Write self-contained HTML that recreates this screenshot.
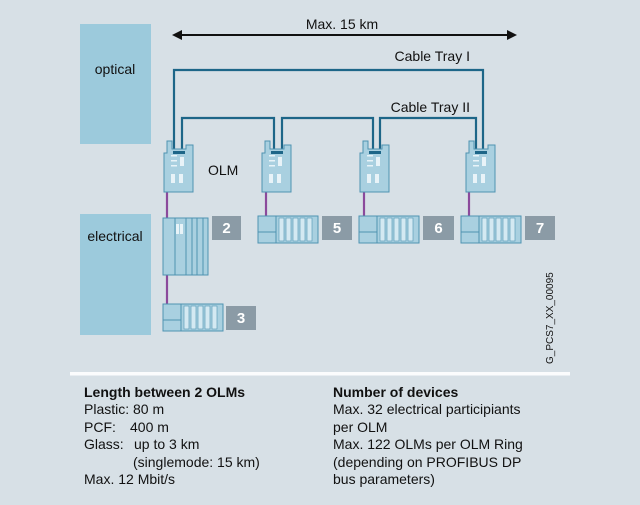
<!DOCTYPE html>
<html><head><meta charset="utf-8"><style>
html,body{margin:0;padding:0;background:#d7e0e6;}
svg{display:block;font-family:"Liberation Sans",Arial,sans-serif;}
</style></head><body>
<svg width="640" height="505" viewBox="0 0 640 505" xmlns="http://www.w3.org/2000/svg">
<defs>
<g id="olm">
  <path d="M0,12 L3,12 L3,0 L8,0 L8,8 L22,8 L22,4 L29,4 L29,51 L0,51 Z" fill="#a9d0e0" stroke="#4f93b1" stroke-width="1"/>
  <rect x="7" y="14" width="6" height="1.5" fill="#e8f3f8"/>
  <rect x="7" y="19" width="6" height="1.5" fill="#e8f3f8"/>
  <rect x="7" y="24" width="6" height="1.5" fill="#e8f3f8"/>
  <rect x="16" y="16" width="4" height="9" fill="#e8f3f8"/>
  <rect x="7" y="33" width="4" height="9" fill="#e8f3f8"/>
  <rect x="15" y="33" width="4" height="9" fill="#e8f3f8"/>
  <rect x="9" y="10" width="12" height="3" fill="#1d6688"/>
</g>
<g id="dev">
  <rect x="0" y="0" width="60" height="27" fill="#a9d0e0" stroke="#4f93b1"/>
  <line x1="0" y1="16" x2="18" y2="16" stroke="#4f93b1"/>
  <line x1="18" y1="0" x2="18" y2="27" stroke="#4f93b1"/>
  <rect x="21" y="2" width="5" height="23" fill="#d4e9f2" stroke="#4f93b1" stroke-width="0.6"/>
  <rect x="28" y="2" width="5" height="23" fill="#d4e9f2" stroke="#4f93b1" stroke-width="0.6"/>
  <rect x="35" y="2" width="5" height="23" fill="#d4e9f2" stroke="#4f93b1" stroke-width="0.6"/>
  <rect x="42" y="2" width="5" height="23" fill="#d4e9f2" stroke="#4f93b1" stroke-width="0.6"/>
  <rect x="49" y="2" width="5" height="23" fill="#d4e9f2" stroke="#4f93b1" stroke-width="0.6"/>
</g>
</defs>
<rect x="80" y="24" width="71" height="120" fill="#9ccadc"/>
<rect x="80" y="214" width="71" height="121" fill="#9ccadc"/>
<text x="115" y="74" font-size="14" text-anchor="middle" fill="#111">optical</text>
<text x="115" y="241" font-size="14" text-anchor="middle" fill="#111">electrical</text>

<line x1="180" y1="35" x2="508" y2="35" stroke="#111" stroke-width="2"/>
<path d="M172,35 L182,30 L182,40 Z" fill="#111"/>
<path d="M517,35 L507,30 L507,40 Z" fill="#111"/>
<text x="342" y="29" font-size="14" text-anchor="middle" fill="#111">Max. 15 km</text>
<text x="470" y="61" font-size="14" text-anchor="end" fill="#111">Cable Tray I</text>
<text x="470" y="112" font-size="14" text-anchor="end" fill="#111">Cable Tray II</text>

<g fill="none" stroke="#1d6688" stroke-width="2.2">
<path d="M174,155 L174,70 L483,70 L483,155"/>
<path d="M182,155 L182,118 L274,118 L274,155"/>
<path d="M282,155 L282,118 L373,118 L373,155"/>
<path d="M380,155 L380,118 L476,118 L476,155"/>
</g>

<g stroke="#8b4a9c" stroke-width="2.2">
<line x1="167" y1="192" x2="167" y2="304"/>
<line x1="266" y1="192" x2="266" y2="216"/>
<line x1="364" y1="192" x2="364" y2="216"/>
<line x1="469" y1="192" x2="469" y2="216"/>
</g>

<use href="#olm" x="164" y="141"/>
<use href="#olm" x="262" y="141"/>
<use href="#olm" x="360" y="141"/>
<use href="#olm" x="466" y="141"/>
<text x="208" y="175" font-size="14" fill="#111">OLM</text>

<g>
  <rect x="163" y="218" width="45" height="57" fill="#a9d0e0" stroke="#4f93b1"/>
  <line x1="175" y1="218" x2="175" y2="275" stroke="#4f93b1"/>
  <line x1="186" y1="218" x2="186" y2="275" stroke="#4f93b1"/>
  <line x1="192" y1="218" x2="192" y2="275" stroke="#4f93b1"/>
  <line x1="197" y1="218" x2="197" y2="275" stroke="#4f93b1"/>
  <line x1="203" y1="218" x2="203" y2="275" stroke="#4f93b1"/>
  <rect x="176" y="224" width="3" height="10" fill="#e8f3f8"/>
  <rect x="180" y="224" width="3" height="10" fill="#e8f3f8"/>
</g>
<use href="#dev" x="258" y="216"/>
<use href="#dev" x="359" y="216"/>
<use href="#dev" x="461" y="216"/>
<use href="#dev" x="163" y="304"/>

<g fill="#8b9ba6">
<rect x="212" y="216" width="29" height="24"/>
<rect x="322" y="216" width="30" height="24"/>
<rect x="423" y="216" width="31" height="24"/>
<rect x="525" y="216" width="30" height="24"/>
<rect x="226" y="306" width="30" height="24"/>
</g>
<g fill="#fff" font-size="15" font-weight="bold" text-anchor="middle">
<text x="226.5" y="233">2</text>
<text x="337" y="233">5</text>
<text x="438.5" y="233">6</text>
<text x="540" y="233">7</text>
<text x="241" y="323">3</text>
</g>
<text transform="translate(553,364) rotate(-90)" font-size="10" fill="#111">G_PCS7_XX_00095</text>

<rect x="70" y="372" width="500" height="3.5" fill="#fbfcfd"/>

<g font-size="14" fill="#111">
<text x="84" y="397" font-weight="bold">Length between 2 OLMs</text>
<text x="84" y="414">Plastic: 80 m</text>
<text x="84" y="432">PCF:</text><text x="130" y="432">400 m</text>
<text x="84" y="449">Glass:</text><text x="134" y="449">up to 3 km</text>
<text x="133" y="467">(singlemode: 15 km)</text>
<text x="84" y="484">Max. 12 Mbit/s</text>
<text x="333" y="397" font-weight="bold">Number of devices</text>
<text x="333" y="414">Max. 32 electrical participiants</text>
<text x="333" y="432">per OLM</text>
<text x="333" y="449">Max. 122 OLMs per OLM Ring</text>
<text x="333" y="467">(depending on PROFIBUS DP</text>
<text x="333" y="484">bus parameters)</text>
</g>
</svg>
</body></html>
